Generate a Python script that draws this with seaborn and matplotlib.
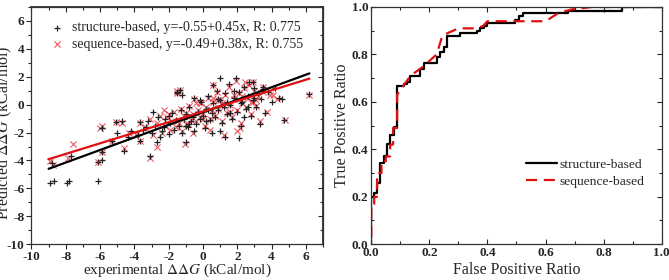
import numpy as np
import pandas as pd
import matplotlib
matplotlib.use('Agg')
import matplotlib.pyplot as plt
from matplotlib.ticker import MultipleLocator, NullFormatter
import seaborn as sns

# --- scatter data ---
struct_x = [-8.9, -8.7, -7.95, -7.8, -6.1, -5.9, -8.8, -7.7, -6.1, -5.9, -5.0, -4.6, -3.1, -2.7,
            -1.0, 2.1, 6.2, 4.7, -4.7, -5.3, -3.7, -5.9, -5.1, -3.66,
            -3.5, -3.2, -3.0, -2.8, -2.6, -2.5, -2.3, -2.2, -2.0, -1.9, -1.8, -1.7, -1.6, -1.5,
            -1.4, -1.3, -1.2, -1.1, -1.0, -0.9, -0.8, -0.7, -0.6, -0.5, -0.4, -0.3, -0.2, -0.1,
            0.0, 0.1, 0.2, 0.3, 0.4, 0.5, 0.6, 0.7, 0.8, 0.9, 1.0, 1.1, 1.2, 1.3, 1.4, 1.5,
            1.6, 1.7, 1.8, 1.9, 2.0, 2.1, 2.2, 2.3, 2.4, 2.5, 2.6, 2.7, 2.8, 2.9, 3.0, 3.1,
            3.2, 3.3, 3.4, 3.5, 3.6, 3.8, 4.0, 4.2, 4.4, 4.6, -1.5, -1.2, 0.5, 1.0, 1.3, -0.5,
            -2.9, -3.8, -4.2, -4.4, 0.9, 1.6, 2.2, 0.3, -0.2, 1.8, 2.6, 3.0, -1.0, -2.0, 0.99,
            0.58, 2.9, 3.5, -1.34, 0.2, -0.8, 1.4, 2.4, -2.4, -3.3]
struct_y = [-5.6, -5.45, -5.6, -5.45, -5.5, -4.0, -4.2, -3.7, -4.1, -3.4, -2.0, -3.3, -3.7, -2.7,
            -2.7, -2.4, 0.75, -1.1, -1.2, -2.6, -2.6, -1.7, -1.25, -1.25,
            -1.8, -1.2, -2.0, -1.5, -0.9, -2.3, -1.6, -1.0, -2.1, -1.3, -0.6, -1.8, -1.1, 0.9,
            -1.5, -0.4, -2.0, -1.0, -0.7, -1.6, -0.2, -1.2, -0.9, 0.5, -1.4, -0.5, -1.0, 0.2,
            -0.8, -1.7, -0.3, 0.6, -1.1, -0.6, 0.1, -0.9, 1.0, -0.4, 0.3, -1.3, -0.2, 0.8, -0.7, 1.5,
            0.0, -1.0, 0.5, 1.9, -0.5, 0.9, -1.5, 0.2, 1.3, -0.3, 0.6, 1.6, -0.8, 0.3, 1.2, -0.2,
            0.8, -1.4, 0.4, 1.1, -0.6, 0.9, 0.2, 1.2, 0.5, 0.4, 0.8, 0.7, -2.0, -1.9, -2.3, -1.9,
            -0.5, -2.2, -1.9, -2.3, 0.4, -0.6, 0.1, -0.4, 0.3, 1.0, -0.2, 0.5, -1.5, -0.8, 1.9,
            1.4, 1.6, 1.26, 1.05, -1.2, -1.4, 0.2, -0.9, -1.9, -1.6]

seq_x = [-8.9, -8.75, -7.85, -7.55, -6.1, -5.9, -5.87, -4.7, -4.6, -5.3, -3.7, -3.1, -2.7, -1.05,
         2.15, 4.77, 6.2, -5.1, -3.66, -6.0,
         -3.4, -3.1, -2.9, -2.7, -2.5, -2.4, -2.2, -2.1, -1.9, -1.8, -1.7, -1.6, -1.5, -1.4,
         -1.3, -1.2, -1.1, -1.0, -0.9, -0.8, -0.7, -0.6, -0.5, -0.4, -0.3, -0.2, -0.1, 0.0,
         0.1, 0.2, 0.3, 0.4, 0.5, 0.6, 0.7, 0.8, 0.9, 1.0, 1.1, 1.2, 1.3, 1.4, 1.5, 1.6, 1.7,
         1.8, 1.9, 2.0, 2.1, 2.2, 2.3, 2.4, 2.5, 2.6, 2.7, 2.8, 2.9, 3.0, 3.1, 3.2, 3.3, 3.5,
         3.7, 3.9, 4.07, 4.3, -1.34, 0.58, 2.44, 2.9, 3.5, -1.5, -0.6, 0.4, 1.2, 2.0, 2.8,
         -2.3, -3.9, -4.3, 0.9, 1.6, -0.2, -1.0, 0.0, 1.1, 2.3, 3.1, -2.0, 0.6, 1.8, -0.4]
seq_y = [-4.05, -4.3, -3.8, -2.85, -4.1, -3.4, -1.5, -1.3, -3.1, -2.6, -2.6, -3.8, -3.0, -2.8,
         -1.7, -1.1, 0.7, -1.25, -1.3, -1.7,
         -1.6, -1.0, -2.2, -1.3, -0.8, -2.0, -1.5, -0.9, -1.8, -1.2, -0.5, -1.6, 1.0, -1.3,
         -0.3, -1.9, -0.8, -0.6, -1.4, -0.1, -1.1, -0.7, 0.4, -1.2, -0.4, -0.9, 0.1, -0.6,
         -1.5, -0.2, 0.5, -1.0, -0.4, 0.2, -0.8, 0.9, -0.3, 0.3, -1.2, -0.1, 0.7, -0.6, 1.3,
         0.0, -0.9, 0.4, 1.7, -0.4, 0.8, -1.3, 0.1, 1.2, -0.2, 0.5, 1.4, -0.7, 0.2, 1.0, -0.1,
         0.6, -1.2, 0.9, -0.5, 0.7, 0.7, 0.4, 1.05, 1.4, 1.6, 1.6, 1.26, 0.8, -2.0, -1.8,
         -2.2, -1.9, 0.2, -0.4, -2.1, -2.0, 0.3, -0.5, 0.2, -1.4, -1.0, 0.1, 0.6, 0.3, -0.7,
         0.5, 0.7, 0.1]

struct_fit = (-0.55, 0.45)
seq_fit = (-0.49, 0.38)
fit_x = [-9.0, 6.2]

# --- ROC data ---
roc_s_fpr = [0, 0, 0.009, 0.009, 0.018, 0.018, 0.03, 0.03, 0.044, 0.044, 0.055, 0.055, 0.066,
             0.066, 0.077, 0.077, 0.089, 0.089, 0.112, 0.112, 0.123, 0.123, 0.135, 0.135, 0.169,
             0.169, 0.181, 0.181, 0.227, 0.227, 0.238, 0.238, 0.25, 0.25, 0.261, 0.261, 0.307,
             0.307, 0.364, 0.364, 0.376, 0.376, 0.387, 0.387, 0.399, 0.399, 0.496, 0.496, 0.507,
             0.507, 0.524, 0.524, 0.679, 0.679, 0.862, 0.862, 1.0]
roc_s_tpr = [0, 0.2, 0.2, 0.214, 0.214, 0.256, 0.256, 0.343, 0.343, 0.37, 0.37, 0.424, 0.424,
             0.46, 0.46, 0.494, 0.494, 0.665, 0.665, 0.675, 0.675, 0.685, 0.685, 0.707, 0.707,
             0.739, 0.739, 0.763, 0.763, 0.788, 0.788, 0.81, 0.81, 0.83, 0.83, 0.879, 0.879,
             0.89, 0.89, 0.90, 0.90, 0.91, 0.91, 0.92, 0.92, 0.931, 0.931, 0.945, 0.945, 0.96,
             0.96, 0.973, 0.973, 0.985, 0.985, 1.0, 1.0]
roc_q_fpr = [0, 0, 0.01, 0.01, 0.02, 0.02, 0.035, 0.035, 0.05, 0.05, 0.065, 0.065, 0.075,
             0.075, 0.089, 0.089, 0.135, 0.18, 0.225, 0.245, 0.3, 0.36, 0.385, 0.40, 0.51,
             0.6, 0.645, 0.69, 0.76, 1.0]
roc_q_tpr = [0.03, 0.17, 0.17, 0.2, 0.2, 0.3, 0.3, 0.35, 0.35, 0.37, 0.37, 0.42, 0.42, 0.49,
             0.49, 0.63, 0.71, 0.75, 0.80, 0.88, 0.91, 0.91, 0.92, 0.94, 0.94, 0.94, 0.975,
             0.99, 1.0, 1.0]

sns.set_theme(style='ticks')
plt.rcParams['font.family'] = ['Liberation Serif', 'DejaVu Serif']
plt.rcParams['mathtext.fontset'] = 'stix'
plt.rcParams['axes.unicode_minus'] = False

fig = plt.figure(figsize=(6.69, 2.8), dpi=100)
ax1 = fig.add_axes([0.047, 0.128, 0.436, 0.847])
ax2 = fig.add_axes([0.555, 0.128, 0.434, 0.847])

# left panel
sns.scatterplot(x=struct_x, y=struct_y, marker='+', color='#222222', s=24, linewidth=0.9,
                ax=ax1, label='structure-based, y=-0.55+0.45x, R: 0.775', zorder=3)
sns.scatterplot(x=seq_x, y=seq_y, marker='x', color='#ec3b45', s=20, linewidth=0.8,
                ax=ax1, label='sequence-based, y=-0.49+0.38x, R: 0.755', zorder=2, alpha=0.85)
fx = np.array(fit_x)
sns.lineplot(x=fx, y=struct_fit[0] + struct_fit[1] * fx, color='black', lw=1.6, ax=ax1,
             legend=False, zorder=4)
sns.lineplot(x=fx, y=seq_fit[0] + seq_fit[1] * fx, color='#e01010', lw=1.6, ax=ax1,
             legend=False, zorder=5)
ax1.set_xlim(-10, 7)
ax1.set_ylim(-10, 7)
for a in (ax1.xaxis, ax1.yaxis):
    a.set_major_locator(MultipleLocator(2))
    a.set_minor_locator(MultipleLocator(1))
ax1.tick_params(which='both', direction='out', labelsize=9.5, width=0.8, pad=1.5)
ax1.tick_params(which='major', length=3.5)
ax1.tick_params(which='minor', length=2)
for lab in ax1.get_xticklabels() + ax1.get_yticklabels():
    lab.set_fontweight('bold')

# inward ticks on the top and right spines, no labels
sx = ax1.secondary_xaxis('top')
sy = ax1.secondary_yaxis('right')
for sa, a in ((sx, sx.xaxis), (sy, sy.yaxis)):
    a.set_major_locator(MultipleLocator(2))
    a.set_minor_locator(MultipleLocator(1))
    a.set_major_formatter(NullFormatter())
    a.set_minor_formatter(NullFormatter())
    sa.tick_params(which='both', direction='in', width=0.8)
    sa.tick_params(which='major', length=3.5)
    sa.tick_params(which='minor', length=2)

ax1.set_xlabel(r'experimental $\mathit{\Delta\Delta G}$ (kCal/mol)', fontsize=11)
ax1.xaxis.set_label_coords(0.5, -0.074)
ax1.set_ylabel(r'Predicted $\mathit{\Delta\Delta G}$ (kCal/mol)', fontsize=11.5)
ax1.yaxis.set_label_coords(-0.06, 0.47)
ax1.legend(loc='upper left', frameon=False, fontsize=10, handletextpad=0.5,
           borderaxespad=0.2, labelspacing=0.25, handlelength=1.2,
           bbox_to_anchor=(0.03, 0.975))

# right panel
sns.lineplot(x=roc_s_fpr, y=roc_s_tpr, sort=False, estimator=None, color='black', lw=1.6,
             ax=ax2, label='structure-based')
sns.lineplot(x=roc_q_fpr, y=roc_q_tpr, sort=False, estimator=None, color='#e01010', lw=1.6,
             ax=ax2, label='sequence-based', linestyle='--')
ax2.lines[1].set_dashes([5, 3])
ax2.set_xlim(0, 1)
ax2.set_ylim(0, 1)
for a in (ax2.xaxis, ax2.yaxis):
    a.set_major_locator(MultipleLocator(0.2))
    a.set_minor_locator(MultipleLocator(0.1))
ax2.tick_params(which='both', direction='in', top=True, right=True, labelsize=9.5, width=0.8,
                pad=2)
ax2.tick_params(which='major', length=3.5)
ax2.tick_params(which='minor', length=2)
for lab in ax2.get_xticklabels() + ax2.get_yticklabels():
    lab.set_fontweight('bold')
ax2.set_xlabel('False Positive Ratio', fontsize=11.5)
ax2.xaxis.set_label_coords(0.5, -0.074)
ax2.set_ylabel('True Positive Ratio', fontsize=11.5)
ax2.yaxis.set_label_coords(-0.075, 0.5)
leg2 = ax2.legend(loc='lower left', bbox_to_anchor=(0.49, 0.185), frameon=False, fontsize=9.7,
                  handlelength=2.3, labelspacing=0.35, handletextpad=0.2)
leg2.get_lines()[1].set_dashes([5, 3])

for ax in (ax1, ax2):
    for sp in ax.spines.values():
        sp.set_linewidth(0.9)
        sp.set_visible(True)
        sp.set_color('#333333')

fig.savefig('out.png', dpi=100)
